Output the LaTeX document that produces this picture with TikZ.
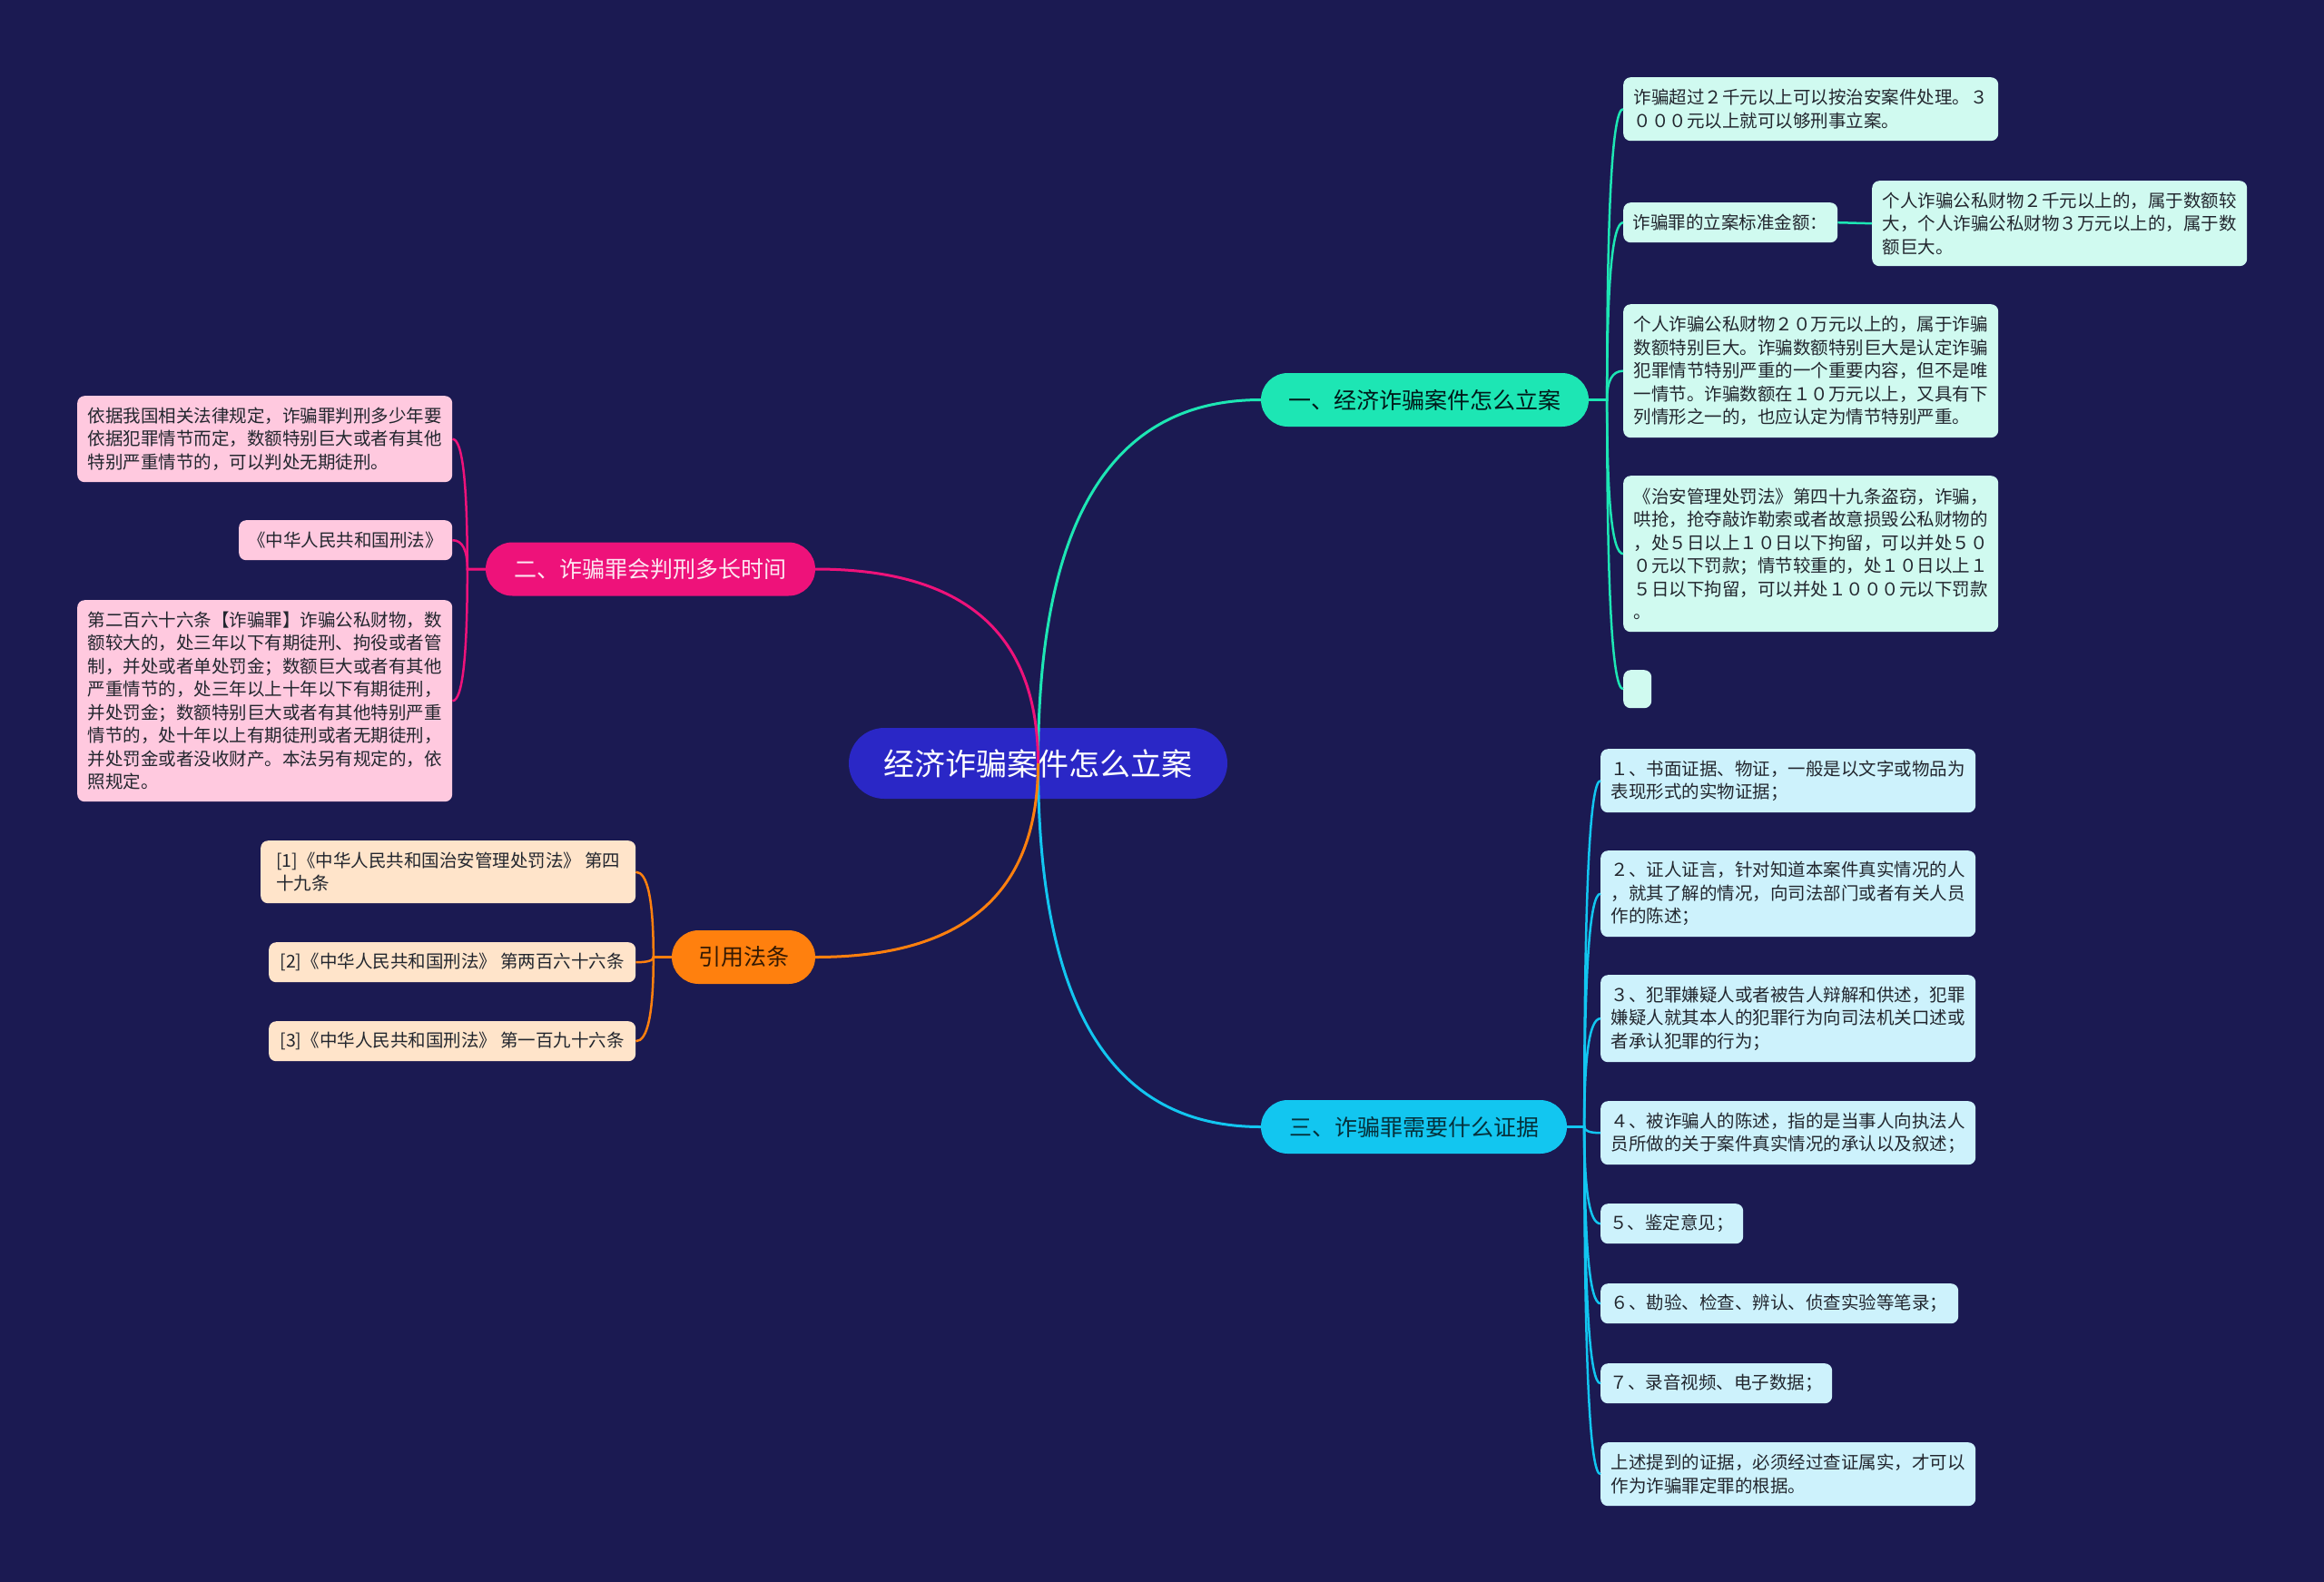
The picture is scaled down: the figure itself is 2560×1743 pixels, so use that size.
\documentclass[tikz,border=0pt]{standalone}
\usepackage{fontspec}
\setmainfont{Noto Sans CJK SC}
\usetikzlibrary{calc}
\definecolor{bgc}{HTML}{1B1A52}
\definecolor{rootc}{HTML}{2A27C6}
\definecolor{tealc}{HTML}{1DE6B4}
\definecolor{cyanc}{HTML}{12C6F0}
\definecolor{pinkc}{HTML}{EE127A}
\definecolor{orangec}{HTML}{FF800E}
\definecolor{mintl}{HTML}{D0FAF0}
\definecolor{bluel}{HTML}{CDF2FC}
\definecolor{pinkl}{HTML}{FFC9DF}
\definecolor{peachl}{HTML}{FFE4CA}
\definecolor{leaftext}{HTML}{22262E}
\tikzset{
  rootnode/.style={fill=rootc, text=white, rounded corners=39pt, minimum width=417pt, minimum height=78pt, inner sep=0pt, font=\fontsize{34}{40}\selectfont},
  branch/.style={rounded corners=29.5pt, minimum height=59pt, inner sep=0pt, font=\fontsize{25}{30}\selectfont},
  leaf/.style={rounded corners=8pt, inner xsep=9pt, inner ysep=0pt, anchor=north west, align=left, text=leaftext, font=\fontsize{19.5}{25.5}\selectfont},
  mleaf/.style={leaf, fill=mintl},
  bleaf/.style={leaf, fill=bluel},
  pleaf/.style={leaf, fill=pinkl},
  oleaf/.style={leaf, fill=peachl},
  mainlink/.style={line width=3pt},
  sublink/.style={line width=2.5pt},
}
\newcommand{\linkR}[4]{\draw[#1] (#2.east) -- (#3) .. controls ($(#3)!0.67!(#3 |- #4.west)$) and ($(#4.west)!0.67!(#3 |- #4.west)$) .. (#4.west);}
\newcommand{\linkL}[4]{\draw[#1] (#2.west) -- (#3) .. controls ($(#3)!0.67!(#3 |- #4.east)$) and ($(#4.east)!0.67!(#3 |- #4.east)$) .. (#4.east);}
\begin{document}
\begin{tikzpicture}[x=1pt,y=-1pt]
\fill[bgc] (0,0) rectangle (2560,1743);
\useasboundingbox (0,0) rectangle (2560,1743);

% root and branches
\node[rootnode] (root) at (1143.5,841) {经济诈骗案件怎么立案};
\node[branch, fill=tealc, text=black!80!teal, minimum width=361pt] (b1) at (1569.5,440.5) {一、经济诈骗案件怎么立案};
\node[branch, fill=cyanc, text=black!75!cyanc, minimum width=337pt] (b3) at (1557.5,1241.5) {三、诈骗罪需要什么证据};
\node[branch, fill=pinkc, text=white!90!pinkc, minimum width=363pt] (b2) at (716.5,627) {二、诈骗罪会判刑多长时间};
\node[branch, fill=orangec, text=black!80!orangec, minimum width=158pt] (rf) at (819,1054.5) {引用法条};

% branch 1 leaves
\node[mleaf, minimum width=413pt, minimum height=70pt] (l1) at (1788,85) {诈骗超过２千元以上可以按治安案件处理。３\\０００元以上就可以够刑事立案。};
\node[mleaf, minimum width=236pt, minimum height=44pt] (l2) at (1788,223) {诈骗罪的立案标准金额：};
\node[mleaf, minimum width=413pt, minimum height=94pt] (l2a) at (2062,199) {个人诈骗公私财物２千元以上的，属于数额较\\大，个人诈骗公私财物３万元以上的，属于数\\额巨大。};
\node[mleaf, minimum width=413pt, minimum height=147pt] (l3) at (1788,335) {个人诈骗公私财物２０万元以上的，属于诈骗\\数额特别巨大。诈骗数额特别巨大是认定诈骗\\犯罪情节特别严重的一个重要内容，但不是唯\\一情节。诈骗数额在１０万元以上，又具有下\\列情形之一的，也应认定为情节特别严重。};
\node[mleaf, minimum width=413pt, minimum height=172pt] (l4) at (1788,524) {《治安管理处罚法》第四十九条盗窃，诈骗，\\哄抢，抢夺敲诈勒索或者故意损毁公私财物的\\，处５日以上１０日以下拘留，可以并处５０\\０元以下罚款；情节较重的，处１０日以上１\\５日以下拘留，可以并处１０００元以下罚款\\。};
\node[mleaf, minimum width=31pt, minimum height=42pt] (l5) at (1788,738) {};

% branch 3 leaves
\node[bleaf, minimum width=413pt, minimum height=70pt] (q1) at (1763,825) {１、书面证据、物证，一般是以文字或物品为\\表现形式的实物证据；};
\node[bleaf, minimum width=413pt, minimum height=95pt] (q2) at (1763,937) {２、证人证言，针对知道本案件真实情况的人\\，就其了解的情况，向司法部门或者有关人员\\作的陈述；};
\node[bleaf, minimum width=413pt, minimum height=96pt] (q3) at (1763,1074) {３、犯罪嫌疑人或者被告人辩解和供述，犯罪\\嫌疑人就其本人的犯罪行为向司法机关口述或\\者承认犯罪的行为；};
\node[bleaf, minimum width=413pt, minimum height=70pt] (q4) at (1763,1213) {４、被诈骗人的陈述，指的是当事人向执法人\\员所做的关于案件真实情况的承认以及叙述；};
\node[bleaf, minimum width=157pt, minimum height=44pt] (q5) at (1763,1326) {５、鉴定意见；};
\node[bleaf, minimum width=394pt, minimum height=44pt] (q6) at (1763,1414) {６、勘验、检查、辨认、侦查实验等笔录；};
\node[bleaf, minimum width=255pt, minimum height=44pt] (q7) at (1763,1502) {７、录音视频、电子数据；};
\node[bleaf, minimum width=413pt, minimum height=70pt] (q8) at (1763,1589) {上述提到的证据，必须经过查证属实，才可以\\作为诈骗罪定罪的根据。};

% branch 2 leaves
\node[pleaf, minimum width=413pt, minimum height=95pt] (p1) at (85,436) {依据我国相关法律规定，诈骗罪判刑多少年要\\依据犯罪情节而定，数额特别巨大或者有其他\\特别严重情节的，可以判处无期徒刑。};
\node[pleaf, minimum width=235pt, minimum height=44pt] (p2) at (263,573) {《中华人民共和国刑法》};
\node[pleaf, minimum width=413pt, minimum height=222pt] (p3) at (85,661) {第二百六十六条【诈骗罪】诈骗公私财物，数\\额较大的，处三年以下有期徒刑、拘役或者管\\制，并处或者单处罚金；数额巨大或者有其他\\严重情节的，处三年以上十年以下有期徒刑，\\并处罚金；数额特别巨大或者有其他特别严重\\情节的，处十年以上有期徒刑或者无期徒刑，\\并处罚金或者没收财产。本法另有规定的，依\\照规定。};

% reference leaves
\node[oleaf, minimum width=413pt, minimum height=69pt] (o1) at (287,926) {[1]《中华人民共和国治安管理处罚法》 第四\\十九条};
\node[oleaf, minimum width=404pt, minimum height=44pt] (o2) at (296,1038) {[2]《中华人民共和国刑法》 第两百六十六条};
\node[oleaf, minimum width=404pt, minimum height=44pt] (o3) at (296,1125) {[3]《中华人民共和国刑法》 第一百九十六条};

% spines
\coordinate (s1) at ([xshift=20pt]b1.east);
\coordinate (s3) at ([xshift=19pt]b3.east);
\coordinate (s2) at ([xshift=-20pt]b2.west);
\coordinate (sr) at ([xshift=-20pt]rf.west);

% leaf connectors
\foreach \n in {l1,l2,l3,l4,l5} {\linkR{sublink, tealc}{b1}{s1}{\n}}
\draw[sublink, tealc] (l2.east) -- (l2a.west);
\foreach \n in {q1,q2,q3,q4,q5,q6,q7,q8} {\linkR{sublink, cyanc}{b3}{s3}{\n}}
\foreach \n in {p1,p2,p3} {\linkL{sublink, pinkc}{b2}{s2}{\n}}
\foreach \n in {o1,o2,o3} {\linkL{sublink, orangec}{rf}{sr}{\n}}

% main connectors
\draw[mainlink, tealc] (root.center) .. controls ($(root.center)!0.67!(root.center |- b1.west)$) and ($(b1.west)!0.67!(root.center |- b1.west)$) .. (b1.west);
\draw[mainlink, cyanc] (root.center) .. controls ($(root.center)!0.67!(root.center |- b3.west)$) and ($(b3.west)!0.67!(root.center |- b3.west)$) .. (b3.west);
\draw[mainlink, pinkc] (root.center) .. controls ($(root.center)!0.67!(root.center |- b2.east)$) and ($(b2.east)!0.67!(root.center |- b2.east)$) .. (b2.east);
\draw[mainlink, orangec] (root.center) .. controls ($(root.center)!0.67!(root.center |- rf.east)$) and ($(rf.east)!0.67!(root.center |- rf.east)$) .. (rf.east);
\end{tikzpicture}
\end{document}
